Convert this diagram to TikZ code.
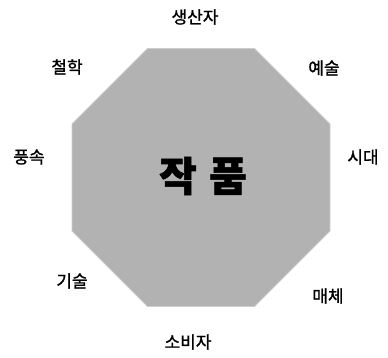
\documentclass[tikz,border=0pt]{standalone}
\usepackage{fontspec}
\setmainfont{Noto Sans CJK KR}
\newfontfamily\cjk{Noto Sans CJK KR}
\newfontfamily\cjkmid[FakeBold=1.2]{Noto Sans CJK KR}
\newfontfamily\cjkheavy[BoldFeatures={FakeBold=1.3}]{Noto Sans CJK KR}
\begin{document}
\begin{tikzpicture}[x=1pt,y=1pt,
  lbl/.style={font=\cjkmid\fontsize{17}{19}\selectfont, inner sep=0pt},
  core/.style={font=\cjkheavy\bfseries\fontsize{41}{46}\selectfont, inner sep=0pt},
  octo/.style={fill={rgb,255:red,178;green,178;blue,178}, draw={rgb,255:red,205;green,205;blue,205}, line width=0.8pt}]
\useasboundingbox (0,0) rectangle (388,358);
\draw[octo] (147.5,309.5) -- (254.5,309.5) -- (330,234) -- (330,127) -- (254.5,51.5) -- (147.5,51.5) -- (72,127) -- (72,234) -- cycle;
\node[core] (work) at (203,182) {작\hspace{0.3em}품};
\node[lbl] (producer) at (195,341) {생산자};
\node[lbl] (philo) at (67,291) {철학};
\node[lbl] (art) at (324,290) {예술};
\node[lbl] (custom) at (29,201) {풍속};
\node[lbl] (era) at (363,201) {시대};
\node[lbl] (tech) at (72,77) {기술};
\node[lbl] (media) at (328,62) {매체};
\node[lbl] (consumer) at (188,16) {소비자};
\end{tikzpicture}
\end{document}
